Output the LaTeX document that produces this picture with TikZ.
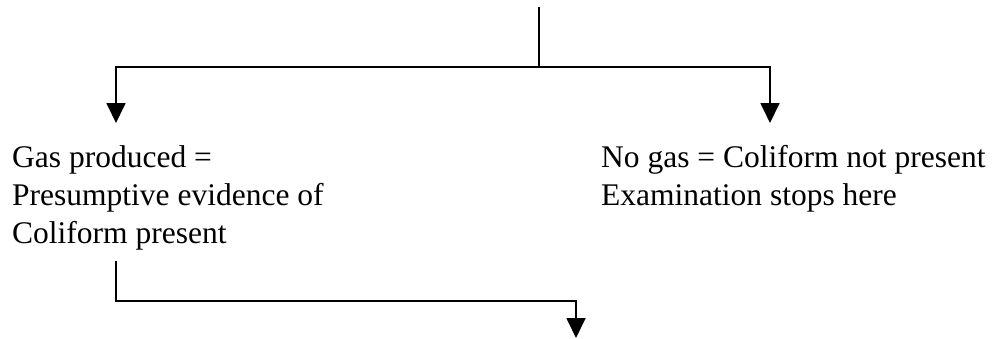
\documentclass[tikz,border=0pt]{standalone}
\usepackage{fontspec}
\setmainfont{Liberation Serif}
\usetikzlibrary{arrows.meta}
\begin{document}
\begin{tikzpicture}[x=1pt,y=-1pt,
  conn/.style={line width=1.8pt},
  arr/.style={conn,-{Triangle[width=19pt,length=20pt]}},
  lbl/.style={anchor=base west, inner sep=0pt, align=left,
    font=\fontsize{31.5}{38}\selectfont}]
\useasboundingbox (0,0) rectangle (995,338);
\coordinate (top) at (539,7);
\coordinate (split) at (539,67);
\coordinate (ltip) at (116,123);
\coordinate (rtip) at (770,123);
\coordinate (bstart) at (116,261);
\coordinate (bcorner) at (576,301);
\coordinate (btip) at (576,338);
% base anchor of a multi-line node is the baseline of its last line
\node[lbl] (gas) at (12,243) {Gas produced =\\Presumptive evidence of\\Coliform present};
\node[lbl] (nogas) at (601,205) {No gas = Coliform not present\\Examination stops here};
\draw[conn] (top) -- (split);
\draw[arr] (split) -| (ltip);
\draw[arr] (split) -| (rtip);
\draw[arr] (bstart) |- (bcorner) -- (btip);
\end{tikzpicture}
\end{document}
